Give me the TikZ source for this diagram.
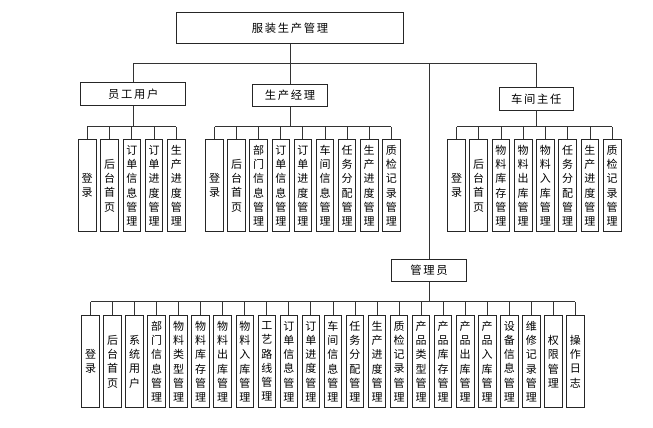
\documentclass[tikz,border=0pt]{standalone}
\usepackage{fontspec}
\newfontfamily\cjk{Noto Sans CJK SC}
\newfontfamily\cjkwide[LetterSpace=15]{Noto Sans CJK SC}
\begin{document}
\begin{tikzpicture}[x=1pt,y=-1pt,
  box/.style={draw=black!85, line width=0.9pt, fill=white, inner sep=0pt, align=center},
  leaf/.style={box, minimum width=17.6pt, minimum height=92pt, font=\cjk\fontsize{11}{14.3}\selectfont},
  head/.style={box, minimum height=22.5pt, font=\cjkwide\fontsize{11.3}{13}\selectfont},
  conn/.style={draw=black!80, line width=0.85pt}]
\useasboundingbox (0,0) rectangle (653,428);

% heads
\node[head, minimum width=226.7pt, minimum height=31pt] (root) at (290,27.8) {服装生产管理};
\node[head, minimum width=105pt] (yg) at (133.2,93.8) {员工用户};
\node[head, minimum width=74.4pt] (sc) at (290,95.5) {生产经理};
\node[head, minimum width=74.3pt] (cj) at (536.2,98.7) {车间主任};
\node[head, minimum width=75pt] (gl) at (429,270.3) {管理员};

\coordinate (topbus) at (0,63.3);
\coordinate (bus1) at (0,126.7);
\coordinate (bus2) at (0,301.7);

\draw[conn] (root.south) -- (sc.north);
\draw[conn] (yg.north |- topbus) -- (cj.north |- topbus);
\draw[conn] (yg.north |- topbus) -- (yg.north);
\draw[conn] (cj.north |- topbus) -- (cj.north);
\draw[conn] (gl.north |- topbus) -- (gl.north);

% group 1
\foreach \t [count=\i from 0] in {{登\\录},{后\\台\\首\\页},{订\\单\\信\\息\\管\\理},{订\\单\\进\\度\\管\\理},{生\\产\\进\\度\\管\\理}}{
  \node[leaf] (a\i) at ({87.2+22.3*\i},185.6) {\t};
  \draw[conn] (a\i.north) -- (a\i.north |- bus1);
}
\draw[conn] (a0.north |- bus1) -- (a4.north |- bus1);
\draw[conn] (yg.south) -- (yg.south |- bus1);

% group 2
\foreach \t [count=\i from 0] in {{登\\录},{后\\台\\首\\页},{部\\门\\信\\息\\管\\理},{订\\单\\信\\息\\管\\理},{订\\单\\进\\度\\管\\理},{车\\间\\信\\息\\管\\理},{任\\务\\分\\配\\管\\理},{生\\产\\进\\度\\管\\理},{质\\检\\记\\录\\管\\理}}{
  \node[leaf] (b\i) at ({214.5+22.1*\i},185.6) {\t};
  \draw[conn] (b\i.north) -- (b\i.north |- bus1);
}
\draw[conn] (b0.north |- bus1) -- (b8.north |- bus1);
\draw[conn] (sc.south) -- (sc.south |- bus1);

% group 3
\foreach \t [count=\i from 0] in {{登\\录},{后\\台\\首\\页},{物\\料\\库\\存\\管\\理},{物\\料\\出\\库\\管\\理},{物\\料\\入\\库\\管\\理},{任\\务\\分\\配\\管\\理},{生\\产\\进\\度\\管\\理},{质\\检\\记\\录\\管\\理}}{
  \node[leaf] (c\i) at ({456.5+22.24*\i},185.6) {\t};
  \draw[conn] (c\i.north) -- (c\i.north |- bus1);
}
\draw[conn] (c0.north |- bus1) -- (c7.north |- bus1);
\draw[conn] (cj.south) -- (cj.south |- bus1);

% admin group
\foreach \t [count=\i from 0] in {{登\\录},{后\\台\\首\\页},{系\\统\\用\\户},{部\\门\\信\\息\\管\\理},{物\\料\\类\\型\\管\\理},{物\\料\\库\\存\\管\\理},{物\\料\\出\\库\\管\\理},{物\\料\\入\\库\\管\\理},{工\\艺\\路\\线\\管\\理},{订\\单\\信\\息\\管\\理},{订\\单\\进\\度\\管\\理},{车\\间\\信\\息\\管\\理},{任\\务\\分\\配\\管\\理},{生\\产\\进\\度\\管\\理},{质\\检\\记\\录\\管\\理},{产\\品\\类\\型\\管\\理},{产\\品\\库\\存\\管\\理},{产\\品\\出\\库\\管\\理},{产\\品\\入\\库\\管\\理},{设\\备\\信\\息\\管\\理},{维\\修\\记\\录\\管\\理},{权\\限\\管\\理},{操\\作\\日\\志}}{
  \node[leaf] (d\i) at ({90.5+22.04*\i},361.5) {\t};
  \draw[conn] (d\i.north) -- (d\i.north |- bus2);
}
\draw[conn] (d0.north |- bus2) -- (d22.north |- bus2);
\draw[conn] (gl.south) -- (gl.south |- bus2);
\end{tikzpicture}
\end{document}
